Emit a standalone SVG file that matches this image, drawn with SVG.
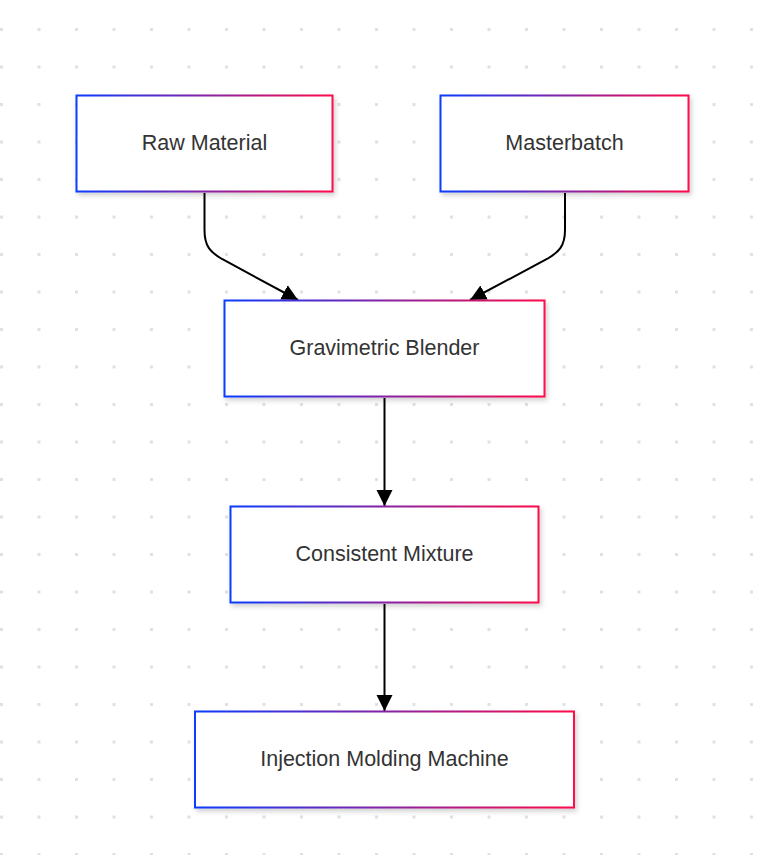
<svg xmlns="http://www.w3.org/2000/svg" width="760" height="855" viewBox="0 0 760 855">
<defs>
<style>
.node rect{fill:#ffffff;stroke:url(#g);stroke-width:2;filter:url(#sh)}
.node text{font-family:"Liberation Sans",Arial,sans-serif;font-size:21.5px;fill:#333333;text-anchor:middle}
.edge{fill:none;stroke:#000000;stroke-width:2;marker-end:url(#arr)}
</style>
<pattern id="dots" x="0" y="28" width="37.5" height="37.5" patternUnits="userSpaceOnUse">
<rect x="0" y="0" width="3" height="3" fill="#e0e0e0"/>
</pattern>
<linearGradient id="g" x1="0" y1="0" x2="1" y2="0">
<stop offset="0" stop-color="#0a3cff"/>
<stop offset="1" stop-color="#ff0a48"/>
</linearGradient>
<filter id="sh" x="-10%" y="-10%" width="125%" height="135%">
<feDropShadow dx="2" dy="3" stdDeviation="2.5" flood-color="#000000" flood-opacity="0.18"/>
</filter>
<marker id="arr" viewBox="0 0 10 10" refX="10" refY="5" markerWidth="16" markerHeight="18" markerUnits="userSpaceOnUse" orient="auto">
<path d="M0,0 L10,5 L0,10 z" fill="#000000"/>
</marker>
</defs>
<rect x="0" y="0" width="760" height="855" fill="#ffffff"/>
<rect x="0" y="0" width="760" height="855" fill="url(#dots)"/>
<g id="connectors">
<path class="edge" d="M204.5,193 L204.5,230 C204.5,246 210,252 222,259 L298,300"/>
<path class="edge" d="M565,193 L565,230 C565,246 559,252 547,259 L470,300"/>
<path class="edge" d="M384.5,398 L384.5,506"/>
<path class="edge" d="M384.5,604 L384.5,711"/>
</g>
<g id="raw-material" class="node">
<rect x="76.5" y="95.5" width="256" height="96"/>
<text x="204.5" y="150">Raw Material</text>
</g>
<g id="masterbatch" class="node">
<rect x="440.5" y="95.5" width="248" height="96"/>
<text x="564.5" y="150">Masterbatch</text>
</g>
<g id="gravimetric-blender" class="node">
<rect x="224.5" y="300.5" width="320" height="96"/>
<text x="384.5" y="355">Gravimetric Blender</text>
</g>
<g id="consistent-mixture" class="node">
<rect x="230.5" y="506.5" width="308" height="96"/>
<text x="384.5" y="561">Consistent Mixture</text>
</g>
<g id="injection-molding-machine" class="node">
<rect x="195" y="711.5" width="379" height="96"/>
<text x="384.5" y="766">Injection Molding Machine</text>
</g>
</svg>
